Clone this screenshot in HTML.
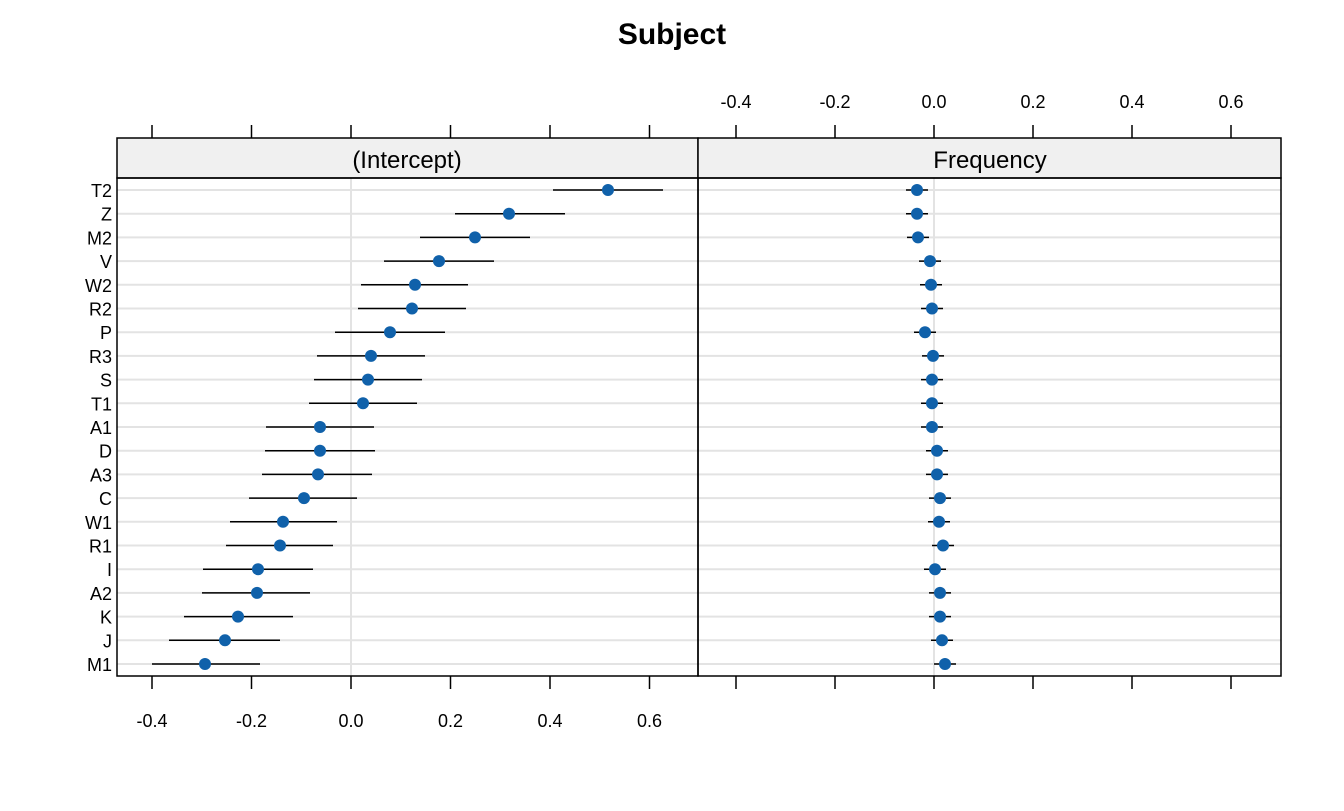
<!DOCTYPE html>
<html><head><meta charset="utf-8"><style>body{margin:0;background:#fff}</style></head>
<body>
<svg width="1344" height="806" xmlns="http://www.w3.org/2000/svg" font-family="Liberation Sans, Arial, sans-serif">
<rect width="1344" height="806" fill="#fff"/>
<text x="672" y="44" font-size="30" font-weight="bold" text-anchor="middle">Subject</text>
<g id="grid" stroke="#e3e3e3" stroke-width="2"></g>
<g id="plot"></g>
<rect x="117" y="138" width="581" height="40" fill="#f0f0f0" stroke="#000" stroke-width="1.5"/>
<rect x="698" y="138" width="583" height="40" fill="#f0f0f0" stroke="#000" stroke-width="1.5"/>
<text x="407" y="168" font-size="24" text-anchor="middle">(Intercept)</text>
<text x="990" y="168" font-size="24" text-anchor="middle">Frequency</text>
<rect x="117" y="178" width="581" height="498" fill="none" stroke="#000" stroke-width="1.5"/>
<rect x="698" y="178" width="583" height="498" fill="none" stroke="#000" stroke-width="1.5"/>
<g id="ticks" stroke="#000" stroke-width="1.5"></g>
<g id="labels" font-size="18"></g>
<script>
var ns="http://www.w3.org/2000/svg";
function el(p,t,a,txt){var e=document.createElementNS(ns,t);for(var k in a)e.setAttribute(k,a[k]);if(txt!=null)e.textContent=txt;document.getElementById(p).appendChild(e);}
var names=["T2","Z","M2","V","W2","R2","P","R3","S","T1","A1","D","A3","C","W1","R1","I","A2","K","J","M1"];
var L=[[608,553,663],[509,455,565],[475,420,530],[439,384,494],[415,361,468],[412,358,466],[390,335,445],[371,317,425],[368,314,422],[363,309,417],[320,266,374],[320,265,375],[318,262,372],[304,249,357],[283,230,337],[280,226,333],[258,203,313],[257,202,310],[238,184,293],[225,169,280],[205,152,260]];
var R=[917,917,918,930,931,932,925,933,932,932,932,937,937,940,939,943,935,940,940,942,945];
el("grid","line",{x1:351,y1:178,x2:351,y2:676});
el("grid","line",{x1:934,y1:178,x2:934,y2:676});
for(var i=0;i<21;i++){var y=190+i*23.7;
el("grid","line",{x1:117,y1:y,x2:1281,y2:y});
el("labels","text",{x:112,y:y+7,"text-anchor":"end"},names[i]);
el("plot","line",{x1:L[i][1],y1:y,x2:L[i][2],y2:y,stroke:"#000","stroke-width":1.5});
el("plot","circle",{cx:L[i][0],cy:y,r:6,fill:"#1061aa"});
el("plot","line",{x1:R[i]-11,y1:y,x2:R[i]+11,y2:y,stroke:"#000","stroke-width":1.5});
el("plot","circle",{cx:R[i],cy:y,r:6,fill:"#1061aa"});}
var lab=["-0.4","-0.2","0.0","0.2","0.4","0.6"];
for(var j=0;j<6;j++){var xl=152+j*99.5,xr=736+j*99;
el("ticks","line",{x1:xl,y1:125,x2:xl,y2:138});el("ticks","line",{x1:xl,y1:676,x2:xl,y2:689});
el("ticks","line",{x1:xr,y1:125,x2:xr,y2:138});el("ticks","line",{x1:xr,y1:676,x2:xr,y2:689});
el("labels","text",{x:xl,y:727,"text-anchor":"middle"},lab[j]);
el("labels","text",{x:xr,y:108,"text-anchor":"middle"},lab[j]);}
</script>
</svg>
</body></html>
